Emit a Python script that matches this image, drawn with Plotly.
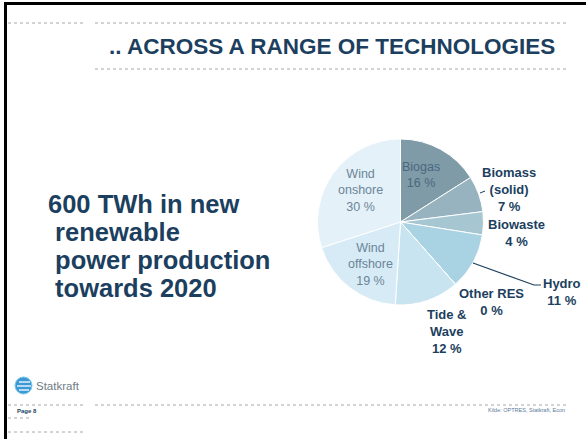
import plotly.graph_objects as go

W, H = 586, 439

# ---- data ----
technologies = ["Biogas", "Biomass (solid)", "Biowaste", "Hydro", "Other RES",
                "Tide & Wave", "Wind offshore", "Wind onshore"]
shares = [16, 7, 4.5, 11, 0, 12.5, 19, 30]
share_labels = ["16 %", "7 %", "4 %", "11 %", "0 %", "12 %", "19 %", "30 %"]
label_lines = [["Biogas"], ["Biomass", "(solid)"], ["Biowaste"], ["Hydro"], ["Other RES"],
               ["Tide &", "Wave"], ["Wind", "offshore"], ["Wind", "onshore"]]

title_text = ".. ACROSS A RANGE OF TECHNOLOGIES"
headline_lines = ["600 TWh in new", " renewable", " power production", " towards 2020"]
source_text = "Kilde: OPTRES, Statkraft, Econ"
page_text = "Page 8"
logo_text = "Statkraft"

# ---- styles ----
colors = ["#7f9ba7", "#96b3bf", "#a6c6d2", "#a9d3e2", "#b9dcea",
          "#c8e4f0", "#d6ebf5", "#e4f1f8"]
inside = [True, False, False, False, False, False, True, True]
label_pos = [(421, 175), (509, 189), (516, 233), (562, 292), (492, 302),
             (447, 331), (370, 264), (360, 190)]
NAVY = "#1c3f60"
FONT = "Liberation Sans, Arial, sans-serif"


def px(x):
    return x / W


def py(y):
    return 1 - y / H


fig = go.Figure()

fig.add_trace(go.Pie(
    labels=technologies, values=shares, sort=False, direction="clockwise",
    rotation=0, textinfo="none", hoverinfo="label+percent",
    marker=dict(colors=colors, line=dict(color="white", width=1)),
    domain=dict(x=[px(317), px(484)], y=[py(305), py(139)]),
    showlegend=False,
))

annotations = []
for lines, pct, pos, ins in zip(label_lines, share_labels, label_pos, inside):
    txt = "<br>".join(lines + [pct])
    if ins:
        font = dict(family=FONT, size=12.5, color="#4a6880" if lines[0] == "Biogas" else "#6c8598")
    else:
        font = dict(family=FONT, size=13, color=NAVY)
        txt = "<b>" + txt + "</b>"
    annotations.append(dict(x=px(pos[0]), y=py(pos[1]), xref="paper", yref="paper",
                            text=txt, showarrow=False, font=font,
                            xanchor="center", yanchor="middle", align="center"))

# title
annotations.append(dict(x=px(332), y=py(46), xref="paper", yref="paper",
                        text="<b>" + title_text + "</b>", showarrow=False,
                        font=dict(family=FONT, size=22.5, color=NAVY),
                        xanchor="center", yanchor="middle"))
# headline
head_y = [204, 232, 260, 288]
for t, yy in zip(headline_lines, head_y):
    t2 = t.replace(" ", "&nbsp;", 1) if t.startswith(" ") else t
    annotations.append(dict(x=px(46), y=py(yy), xref="paper", yref="paper",
                            text="<b>" + t2 + "</b>", showarrow=False,
                            font=dict(family=FONT, size=25.5, color=NAVY),
                            xanchor="left", yanchor="middle"))
# footer texts
annotations.append(dict(x=px(15), y=py(411), xref="paper", yref="paper",
                        text="<b>" + page_text + "</b>", showarrow=False,
                        font=dict(family=FONT, size=6, color=NAVY),
                        xanchor="left", yanchor="middle"))
annotations.append(dict(x=px(567), y=py(410), xref="paper", yref="paper",
                        text=source_text, showarrow=False,
                        font=dict(family=FONT, size=5.5, color="#5a7a98"),
                        xanchor="right", yanchor="middle"))
annotations.append(dict(x=px(34), y=py(386), xref="paper", yref="paper",
                        text=logo_text, showarrow=False,
                        font=dict(family=FONT, size=11.5, color="#6f7c86"),
                        xanchor="left", yanchor="middle"))

shapes = []
# slide frame
shapes.append(dict(type="line", xref="paper", yref="paper", x0=px(5.5), x1=1, y0=py(3.5), y1=py(3.5),
                   line=dict(color="black", width=3)))
shapes.append(dict(type="line", xref="paper", yref="paper", x0=px(5.5), x1=px(5.5), y0=py(2), y1=0,
                   line=dict(color="black", width=3)))
# dotted rules
for (x0, x1, yy) in [(8, 84, 23), (95, 566, 23), (95, 566, 69), (8, 84, 405),
                     (95, 566, 405), (8, 32, 418), (8, 84, 432)]:
    shapes.append(dict(type="line", xref="paper", yref="paper", x0=px(x0), x1=px(x1),
                       y0=py(yy), y1=py(yy), line=dict(color="#a8a8a8", width=1, dash="dot")))
# leader lines
shapes.append(dict(type="path", xref="paper", yref="paper",
                   path=f"M {px(473)} {py(263)} L {px(534)} {py(285)} L {px(541)} {py(285)}",
                   line=dict(color=NAVY, width=1.2)))
shapes.append(dict(type="line", xref="paper", yref="paper", x0=px(480), x1=px(485),
                   y0=py(193), y1=py(191), line=dict(color=NAVY, width=1)))
# logo
shapes.append(dict(type="circle", xref="paper", yref="paper", x0=px(15), x1=px(32),
                   y0=py(394), y1=py(377), fillcolor="#3b9ad6", line=dict(color="#7cc6ea", width=1)))
for yy, x0, x1 in [(382, 19, 30), (386, 17, 31), (390, 19, 29)]:
    shapes.append(dict(type="line", xref="paper", yref="paper", x0=px(x0), x1=px(x1),
                       y0=py(yy), y1=py(yy), line=dict(color="white", width=1.3)))

fig.update_layout(
    width=W, height=H, autosize=False,
    margin=dict(l=0, r=0, t=0, b=0),
    paper_bgcolor="white", plot_bgcolor="white",
    annotations=annotations, shapes=shapes,
)

fig.write_html("out.html", config={"displayModeBar": False},
               post_script="document.body.style.margin='0px';document.body.style.overflow='hidden';")
